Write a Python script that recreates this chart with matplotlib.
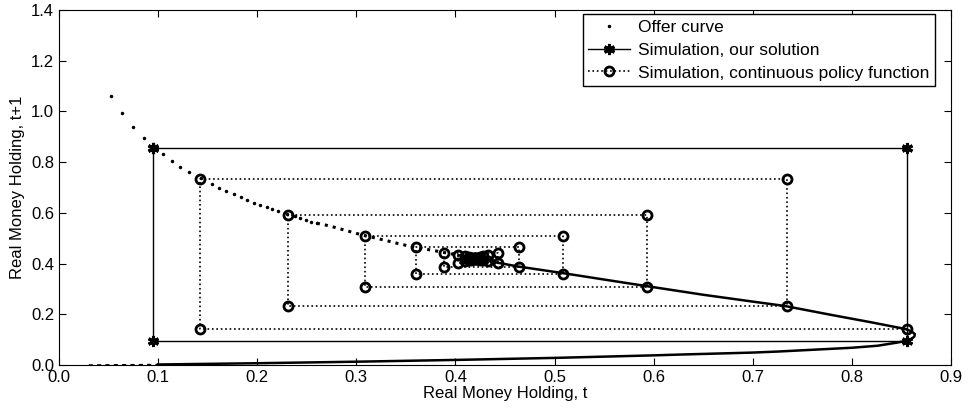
import numpy as np
import matplotlib
matplotlib.use("Agg")
import matplotlib.pyplot as plt

plt.rcParams['font.family'] = ['Liberation Sans', 'DejaVu Sans']

# offer curve, upper-left part (individual dots)
offer_x_sparse = [0.052, 0.0636, 0.0746, 0.0853, 0.0957, 0.1048, 0.1138, 0.1225, 0.1312,
                  0.1433, 0.1547, 0.1617, 0.169, 0.1765, 0.1832, 0.1898, 0.1966, 0.2033,
                  0.2094, 0.2154, 0.221, 0.2305, 0.2378, 0.2428, 0.2489, 0.2546, 0.2602]
offer_y_sparse = [1.062, 0.992, 0.938, 0.896, 0.857, 0.832, 0.806, 0.782, 0.762,
                  0.736, 0.714, 0.699, 0.686, 0.673, 0.661, 0.651, 0.640, 0.631,
                  0.622, 0.614, 0.607, 0.594, 0.588, 0.581, 0.572, 0.565, 0.559]

# offer curve, dense middle part (dots close together)
offer_x_mid = [0.2602, 0.27, 0.28, 0.29, 0.30, 0.309, 0.32, 0.33, 0.34, 0.35, 0.36,
               0.37, 0.38, 0.388, 0.396, 0.403]
offer_y_mid = [0.559, 0.551, 0.541, 0.530, 0.519, 0.510, 0.500, 0.491, 0.481, 0.472, 0.464,
               0.457, 0.450, 0.444, 0.438, 0.433]

# offer curve, solid-looking part incl. the nose and the lower branch
offer_x_dense = [0.403, 0.42, 0.443, 0.464, 0.509, 0.55, 0.593, 0.65, 0.70, 0.732, 0.78,
                 0.82, 0.854, 0.860, 0.8635, 0.863, 0.860, 0.855, 0.845, 0.826, 0.80,
                 0.75, 0.725, 0.70, 0.625, 0.60, 0.50, 0.40, 0.30, 0.20, 0.10]
offer_y_dense = [0.433, 0.420, 0.403, 0.388, 0.362, 0.337, 0.311, 0.277, 0.250, 0.233, 0.197,
                 0.168, 0.142, 0.133, 0.122, 0.112, 0.103, 0.095, 0.088, 0.076, 0.068,
                 0.058, 0.053, 0.049, 0.041, 0.038, 0.028, 0.020, 0.013, 0.007, 0.002]

# offer curve, lower-left tail
offer_x_tail = [0.03, 0.04, 0.05, 0.06, 0.07, 0.08, 0.09, 0.10]
offer_y_tail = [0.0, 0.0005, 0.0008, 0.001, 0.0012, 0.0015, 0.0018, 0.002]

# simulation with our solution: 2-cycle
sim_x = [0.095, 0.856, 0.856, 0.095, 0.095]
sim_y = [0.857, 0.857, 0.095, 0.095, 0.857]

# simulation with continuous policy function: sequence x_t
policy_seq = [0.856, 0.142, 0.735, 0.231, 0.593, 0.309, 0.509, 0.360, 0.464, 0.388,
              0.443, 0.403, 0.433, 0.410, 0.428, 0.414, 0.425, 0.416, 0.423, 0.418,
              0.422, 0.419, 0.421, 0.420]

# cobweb path: (x_t, x_t+1) -> (x_t+1, x_t+1) -> ...
cob_x, cob_y = [], []
for i in range(len(policy_seq) - 1):
    cob_x += [policy_seq[i], policy_seq[i + 1]]
    cob_y += [policy_seq[i + 1], policy_seq[i + 1]]

fig = plt.figure(figsize=(9.74, 4.16), dpi=100)
ax = fig.add_axes([59 / 974, 51 / 416, 892 / 974, 355 / 416])

h_offer, = ax.plot(offer_x_sparse, offer_y_sparse, '.', color='black', markersize=3,
                   label='Offer curve')
ax.plot(offer_x_mid, offer_y_mid, ':', color='black', linewidth=2.2)
ax.plot(offer_x_dense, offer_y_dense, '-', color='black', linewidth=1.8)
ax.plot(offer_x_tail, offer_y_tail, '--', color='black', linewidth=1.0, dashes=(3, 3))

h_sim, = ax.plot(sim_x, sim_y, '-', color='black', linewidth=1.0, marker=(6, 2, 0),
                 markersize=8, markeredgewidth=2.2, label='Simulation, our solution')
h_pol, = ax.plot(cob_x, cob_y, ':', color='black', linewidth=1.2, marker='o',
                 markersize=6.5, markerfacecolor='none', markeredgewidth=2,
                 label='Simulation, continuous policy function')

ax.set_xlim(0, 0.9)
ax.set_ylim(0, 1.4)
ax.set_xticks(np.arange(0, 0.91, 0.1))
ax.set_yticks(np.arange(0, 1.41, 0.2))
ax.set_xticklabels(['%.1f' % v for v in np.arange(0, 0.91, 0.1)])
ax.set_yticklabels(['%.1f' % v for v in np.arange(0, 1.41, 0.2)])
ax.tick_params(direction='in', top=True, right=True, length=5, labelsize=12)
ax.set_xlabel('Real Money Holding, t', fontsize=12, labelpad=1)
ax.set_ylabel('Real Money Holding, t+1', fontsize=12, labelpad=4)

leg = ax.legend(handles=[h_offer, h_sim, h_pol], loc='upper right',
                bbox_to_anchor=(0.982, 0.988), fontsize=12.5, fancybox=False,
                framealpha=1, edgecolor='black', numpoints=1, handlelength=2.4,
                borderpad=0.3, labelspacing=0.45, handletextpad=0.5, borderaxespad=0)
leg.get_frame().set_linewidth(1.0)

fig.savefig('out.png', dpi=100)
